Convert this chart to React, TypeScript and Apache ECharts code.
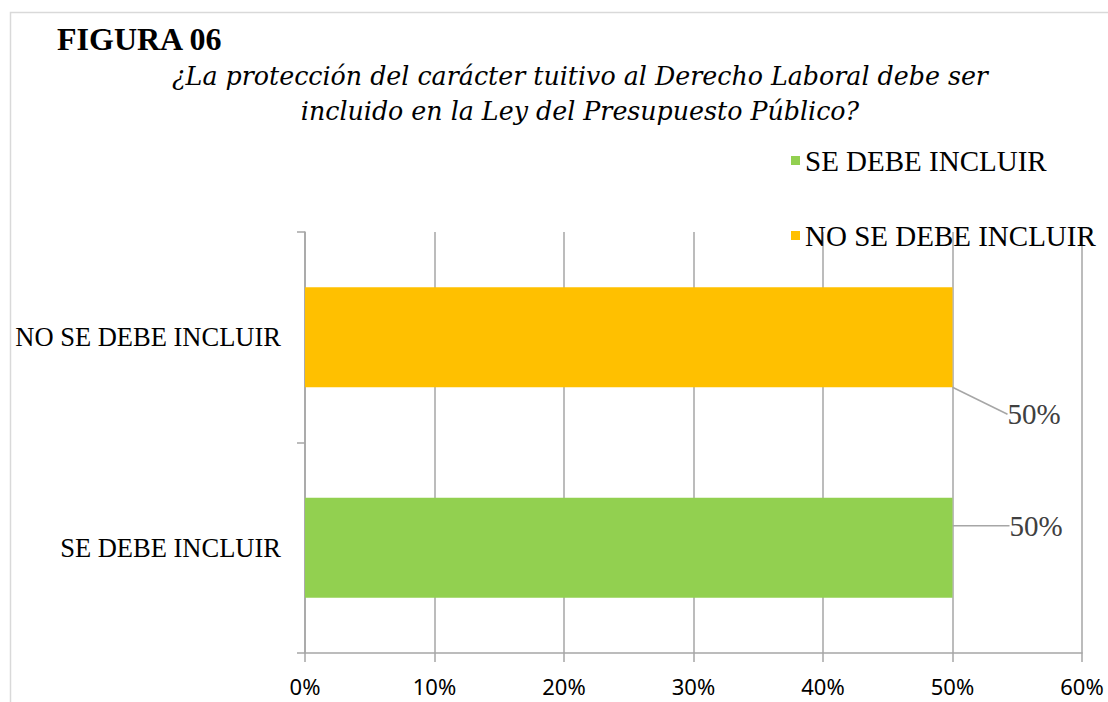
import React, { useEffect, useRef } from "react";
import * as echarts from "echarts";

const categories = ["SE DEBE INCLUIR", "NO SE DEBE INCLUIR"];
const seriesNames = ["SE DEBE INCLUIR", "NO SE DEBE INCLUIR"];
const seDebeValues = [0.5, "-"];
const noSeDebeValues = ["-", 0.5];
const xTicks = [0, 0.1, 0.2, 0.3, 0.4, 0.5, 0.6];
const titleText = "FIGURA 06";
const subtitleLines = [
  "¿La protección del carácter tuitivo al Derecho Laboral debe ser",
  "incluido en la Ley del Presupuesto Público?",
];

const SERIF = "Liberation Serif";
const SANS = "'Noto Sans', 'Liberation Sans', sans-serif";
const GRID_GRAY = "#a6a6a6";

export default function App() {
  const ref = useRef<HTMLDivElement>(null);
  useEffect(() => {
    if (!ref.current) return;
    const chart = echarts.init(ref.current, undefined, { renderer: "svg" });
    const pct = (v: number) => Math.round(v * 100) + "%";
    chart.setOption({
      animation: false,
      backgroundColor: "#ffffff",
      graphic: [
        {
          type: "rect",
          shape: { x: 10.5, y: 12.5, width: 1200, height: 800 },
          style: { fill: "none", stroke: "#d9d9d9", lineWidth: 1.5 },
          silent: true,
          z: -10,
        },
        {
          type: "text",
          x: 580,
          y: 76,
          style: {
            text: subtitleLines[0],
            font: "italic 25.3px 'DejaVu Serif'",
            fill: "#000000",
            align: "center",
            verticalAlign: "middle",
          },
        },
        {
          type: "text",
          x: 580,
          y: 111,
          style: {
            text: subtitleLines[1],
            font: "italic 25.3px 'DejaVu Serif'",
            fill: "#000000",
            align: "center",
            verticalAlign: "middle",
          },
        },
      ],
      title: [
        {
          text: titleText,
          left: 57,
          top: 23,
          padding: 0,
          textStyle: {
            fontFamily: SERIF,
            fontWeight: "bold",
            fontSize: 32,
            color: "#000000",
          },
        },
      ],
      legend: {
        orient: "vertical",
        left: 786,
        top: 141,
        itemWidth: 9,
        itemHeight: 9,
        itemGap: 46,
        icon: "rect",
        data: seriesNames,
        textStyle: { fontFamily: SERIF, fontSize: 29, color: "#000000" },
      },
      grid: { left: 305, right: 26, top: 232, bottom: 49, containLabel: false },
      xAxis: {
        type: "value",
        min: xTicks[0],
        max: xTicks[xTicks.length - 1],
        interval: 0.1,
        axisLine: { show: true, lineStyle: { color: GRID_GRAY, width: 1.5 } },
        axisTick: { show: true, length: 9, lineStyle: { color: GRID_GRAY, width: 1.5 } },
        splitLine: { show: true, lineStyle: { color: GRID_GRAY, width: 1.5 } },
        axisLabel: {
          formatter: pct,
          fontFamily: SANS,
          fontSize: 22,
          color: "#000000",
          margin: 22,
        },
      },
      yAxis: {
        type: "category",
        data: categories,
        axisLine: { show: true, lineStyle: { color: GRID_GRAY, width: 1.5 } },
        axisTick: { show: true, length: 8, lineStyle: { color: GRID_GRAY, width: 1.5 } },
        axisLabel: {
          fontFamily: SERIF,
          fontSize: 26.5,
          color: "#000000",
          margin: 24,
        },
      },
      series: [
        {
          name: seriesNames[0],
          type: "bar",
          stack: "total",
          data: seDebeValues,
          barWidth: 100,
          itemStyle: { color: "#92d050" },
          label: {
            show: true,
            position: "right",
            formatter: (p: any) => pct(p.value),
            fontFamily: SERIF,
            fontSize: 29,
            color: "#404040",
          },
          labelLayout: { dx: 52, dy: -22 },
          labelLine: { show: true, lineStyle: { color: GRID_GRAY, width: 1.5 } },
        },
        {
          name: seriesNames[1],
          type: "bar",
          stack: "total",
          data: noSeDebeValues,
          barWidth: 100,
          itemStyle: { color: "#ffc000" },
          label: {
            show: true,
            position: "right",
            formatter: (p: any) => pct(p.value),
            fontFamily: SERIF,
            fontSize: 29,
            color: "#404040",
          },
          labelLayout: { dx: 50, dy: 77 },
          labelLine: { show: true, lineStyle: { color: GRID_GRAY, width: 1.5 } },
        },
      ],
    });
    return () => chart.dispose();
  }, []);
  return (
    <div
      ref={ref}
      style={{ position: "fixed", left: 0, top: 0, width: 1108, height: 702 }}
    />
  );
}
